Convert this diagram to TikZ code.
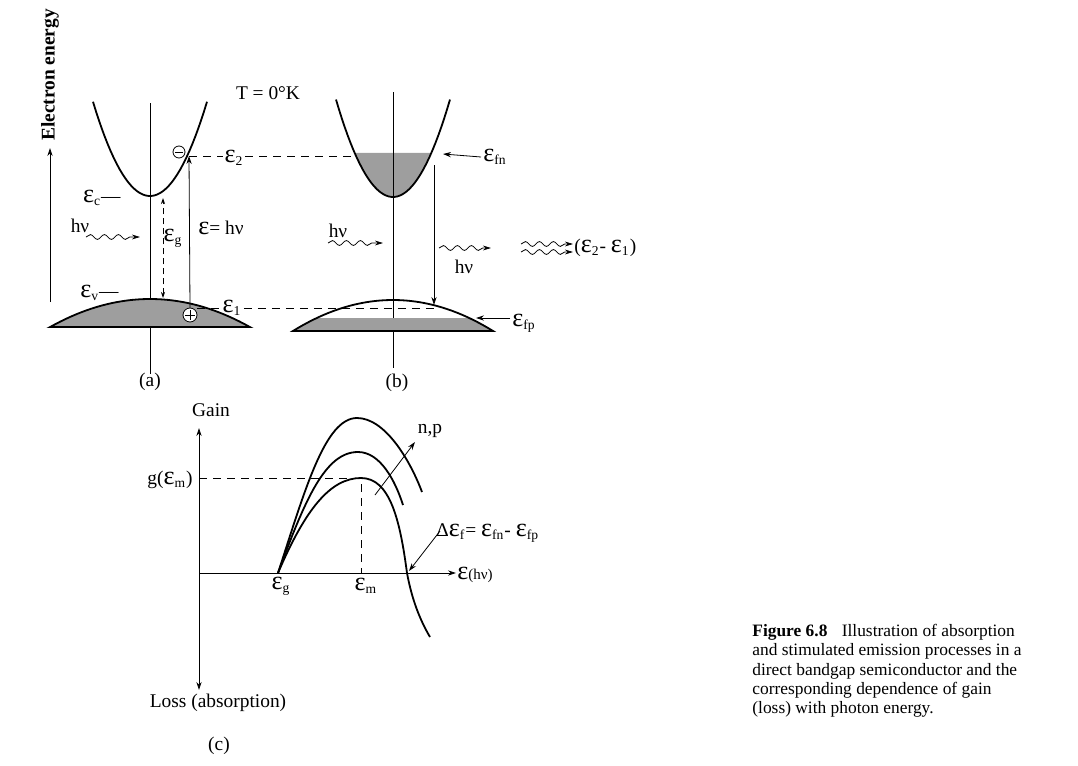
\documentclass[tikz,border=0pt]{standalone}
\usepackage{fontspec}
\setmainfont{Liberation Serif}
\usepackage{tikz}
\usetikzlibrary{
    arrows.meta,
    decorations.pathmorphing
}
\definecolor{bandgray}{gray}{0.62}
\newcommand{\Eps}{\scalebox{1.35}{ε}}
\tikzstyle{band} = [
    line width=0.9pt,
    draw=black
]
\tikzstyle{arrow} = [
    -{Stealth[length=4pt, width=2.6pt]},
    thin
]
\tikzstyle{fermiline} = [
    thin,
    dash pattern=on 4pt off 3pt
]
\tikzstyle{photon} = [
    thin,
    decorate,
    decoration={snake, amplitude=1.2pt, segment length=7pt, post length=4pt},
    -{Stealth[length=4pt, width=2.4pt]}
]
\tikzstyle{lbl} = [
    font=\fontsize{9.7}{11}\selectfont,
    inner sep=1pt
]
\tikzstyle{levellbl} = [
    lbl,
    fill=white
]

\begin{document}
\begin{tikzpicture}[x=0.5pt, y=-0.5pt]
    \useasboundingbox (0,0) rectangle (1078,766);

    % Energy axis
    \node[lbl, font=\fontsize{9.7}{11}\selectfont\bfseries, rotate=90] (energy) at (50,75) {Electron energy};
    \coordinate (ebot) at (50,302);
    \coordinate (etop) at (50,148);
    \draw[arrow] (ebot) -- (etop);
    \node[lbl] (temp) at (268,93) {T = 0°K};

    % (a) bands
    \draw[thin] (150,103) -- (150,374);
    \draw[band] plot[domain=93:207, samples=40] (\x, {196-0.029*(\x-150)^2});
    \filldraw[band, fill=bandgray] plot[domain=50:250, samples=40] (\x, {299+0.0028*(\x-150)^2}) -- cycle;
    \node[lbl, anchor=east] (ec) at (123,198) {\Eps\textsubscript{c}—};
    \node[lbl, anchor=east] (ev) at (121,293) {\Eps\textsubscript{v}—};

    % Electron and hole
    \node[circle, draw, thin, minimum size=6pt, inner sep=0pt] (elec) at (179,152) {};
    \draw[thin] ([xshift=1.4pt]elec.west) -- ([xshift=-1.4pt]elec.east);
    \node[circle, draw, thin, fill=white, minimum size=7pt, inner sep=0pt] (hole) at (190,315) {};
    \draw[thin] ([xshift=1.4pt]hole.west) -- ([xshift=-1.4pt]hole.east);
    \draw[thin] ([yshift=-1.4pt]hole.north) -- ([yshift=1.4pt]hole.south);
    \coordinate (e2) at (189,156);
    \draw[arrow] (hole.north) -- (e2);
    \node[lbl, anchor=west] (ehv) at (196,228) {\Eps = hν};

    % Gap
    \coordinate (gtop) at (163,198);
    \coordinate (gbot) at (163,298);
    \draw[{Stealth[length=3pt, width=2pt]}-{Stealth[length=3pt, width=2pt]}, thin, densely dashed] (gbot) -- (gtop);
    \node[lbl] (eg) at (173,238) {\Eps\textsubscript{g}};

    % Photon in
    \node[lbl] (hva) at (80,226) {hν};
    \draw[photon] (86,237) -- (140,237);

    % Levels
    \coordinate (fn) at (354,156);
    \coordinate (f1) at (434,308);
    \draw[fermiline] (e2) -- (fn);
    \node[levellbl] (e2lbl) at (234,158) {\Eps\textsubscript{2}};
    \node[lbl] (e1lbl) at (232,308) {\Eps\textsubscript{1}};
    \draw[fermiline] (hole.east |- 0,308) -- (e1lbl.west);
    \draw[fermiline] (e1lbl.east |- 0,308) -- (f1);

    \node[lbl] (la) at (150,382) {(a)};

    % (b) bands
    \fill[bandgray] plot[domain=354.7:431.3, samples=30] (\x, {197-0.030*(\x-393)^2}) -- cycle;
    \draw[thin] (393,92) -- (393,368);
    \draw[band] plot[domain=336:450, samples=40] (\x, {197-0.030*(\x-393)^2});
    \begin{scope}
        \clip plot[domain=293:493, samples=40] (\x, {300+0.0031*(\x-393)^2}) -- cycle;
        \fill[bandgray] (293,318) rectangle (493,332);
    \end{scope}
    \draw[band] plot[domain=293:493, samples=40] (\x, {300+0.0031*(\x-393)^2}) -- cycle;

    % Quasi-Fermi levels
    \node[lbl, anchor=west] (efn) at (481,157) {\Eps\textsubscript{fn}};
    \draw[arrow] (efn.west) -- (443,154);
    \node[lbl, anchor=west] (efp) at (510,323) {\Eps\textsubscript{fp}};
    \draw[arrow] (efp.west) ++(0,-5) -- (476,318);

    % Stimulated emission
    \coordinate (emtop) at (434,165);
    \coordinate (embot) at (434,305);
    \draw[arrow] (emtop) -- (embot);
    \node[lbl] (hvb) at (338,231) {hν};
    \draw[photon] (328,243) -- (383,243);
    \draw[photon] (439,248) -- (491,248);
    \node[lbl] (hvc) at (464,267) {hν};
    \draw[photon] (521,244) -- (573,244);
    \draw[photon] (521,252) -- (573,252);
    \node[lbl, anchor=west] (e21) at (572,248) {(\Eps\textsubscript{2}- \Eps\textsubscript{1})};

    \node[lbl] (lb) at (397,383) {(b)};

    % (c) gain axes
    \node[lbl] (gain) at (211,410) {Gain};
    \coordinate (gtop) at (199,428);
    \coordinate (lbot) at (199,690);
    \draw[{Stealth[length=4pt, width=2.6pt]}-{Stealth[length=4pt, width=2.6pt]}, thin] (lbot) -- (gtop);
    \coordinate (origin) at (199,573);
    \draw[arrow] (origin) -- (456,573);
    \node[lbl, anchor=west] (ehv2) at (455,575) {\Eps{\fontsize{7.5}{9}\selectfont(hν)}};
    \node[lbl] (loss) at (218,703) {Loss (absorption)};
    \node[lbl] (lc) at (219,746) {(c)};

    % Peak gain
    \draw[fermiline] (origin |- 0,478) -- (361,478) -- (361,573);
    \node[lbl, anchor=east] (gm) at (195,480) {g(\Eps\textsubscript{m})};
    \node[lbl] (egc) at (281,586) {\Eps\textsubscript{g}};
    \node[lbl] (emc) at (366,586) {\Eps\textsubscript{m}};

    % Gain curves
    \draw[band] (278,573) .. controls (305,510) and (330,478) .. (361,478)
        .. controls (390,478) and (400,520) .. (407,573)
        .. controls (412,600) and (420,620) .. (430,637);
    \draw[band] (278,573) .. controls (305,500) and (325,452) .. (358,452)
        .. controls (380,452) and (395,480) .. (403,505);
    \draw[band] (278,573) .. controls (305,490) and (325,418) .. (357,418)
        .. controls (385,418) and (410,460) .. (422,492);

    % Carrier density and Fermi split
    \draw[arrow] (375,495) -- (415,442);
    \node[lbl] (np) at (430,431) {n,p};
    \node[lbl, anchor=west] (df) at (434,533) {Δ\Eps\textsubscript{f}= \Eps\textsubscript{fn}- \Eps\textsubscript{fp}};
    \draw[arrow] (440,531) -- (409,571);

    % Caption
    \node[anchor=north west, align=left, inner sep=0pt, font=\fontsize{8.7}{9.65}\selectfont] (cap) at (752,624)
        {\textbf{Figure 6.8}\hspace{5pt} Illustration of absorption\\
         and stimulated emission processes in a\\
         direct bandgap semiconductor and the\\
         corresponding dependence of gain\\
         (loss) with photon energy.};
\end{tikzpicture}
\end{document}
